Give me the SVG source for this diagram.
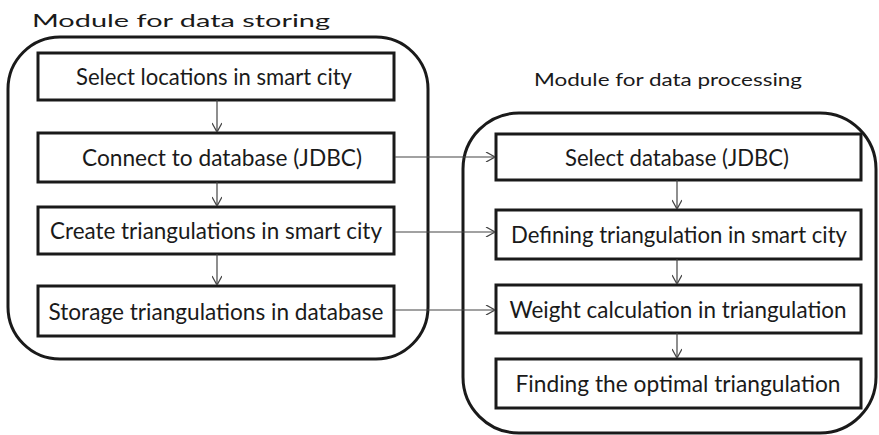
<svg xmlns="http://www.w3.org/2000/svg" width="879" height="435" viewBox="0 0 879 435">
<defs>
<style>
.outer{fill:none;stroke:#1a1a1a;stroke-width:3}
.box{fill:#fff;stroke:#1a1a1a;stroke-width:3}
.lbl{font-family:Lato,"Open Sans","Liberation Sans",sans-serif;font-size:23px;fill:#1a1a1a;text-anchor:middle}
.title{font-family:Lato,"Open Sans","Liberation Sans",sans-serif;font-size:18px;fill:#1a1a1a;text-anchor:middle}
.conn{fill:none;stroke:#444;stroke-width:1.2;marker-end:url(#arr)}
</style>
<marker id="arr" viewBox="0 0 10 10" refX="10" refY="5" markerWidth="10" markerHeight="10" markerUnits="userSpaceOnUse" orient="auto">
<path d="M1,0 L10,5 L1,10" fill="none" stroke="#444" stroke-width="1.3"/>
</marker>
</defs>
<rect width="879" height="435" fill="#fff"/>
<g id="module-storing">
<rect class="outer" x="8" y="37" width="420" height="322" rx="52" ry="52"/>
<text class="title" x="181" y="27" textLength="298" lengthAdjust="spacingAndGlyphs">Module for data storing</text>
</g>
<g id="module-processing">
<rect class="outer" x="463" y="113" width="413" height="320" rx="56" ry="56"/>
<text class="title" x="668" y="86" textLength="268" lengthAdjust="spacingAndGlyphs">Module for data processing</text>
</g>
<g id="n1"><rect class="box" x="38" y="53" width="356" height="47"/><text class="lbl" x="214" y="85" textLength="276" lengthAdjust="spacingAndGlyphs">Select locations in smart city</text></g>
<g id="n2"><rect class="box" x="38" y="133" width="356" height="49"/><text class="lbl" x="222" y="166" textLength="280" lengthAdjust="spacingAndGlyphs">Connect to database (JDBC)</text></g>
<g id="n3"><rect class="box" x="38" y="207" width="356" height="47"/><text class="lbl" x="216" y="239" textLength="332" lengthAdjust="spacingAndGlyphs">Create triangulations in smart city</text></g>
<g id="n4"><rect class="box" x="38" y="286" width="356" height="50"/><text class="lbl" x="216" y="319.5" textLength="335" lengthAdjust="spacingAndGlyphs">Storage triangulations in database</text></g>
<g id="n5"><rect class="box" x="496" y="134" width="365" height="46"/><text class="lbl" x="677" y="165.5" textLength="224" lengthAdjust="spacingAndGlyphs">Select database (JDBC)</text></g>
<g id="n6"><rect class="box" x="496" y="210" width="365" height="49"/><text class="lbl" x="679" y="243" textLength="336" lengthAdjust="spacingAndGlyphs">Defining triangulation in smart city</text></g>
<g id="n7"><rect class="box" x="496" y="285" width="365" height="48"/><text class="lbl" x="678" y="317.5" textLength="337" lengthAdjust="spacingAndGlyphs">Weight calculation in triangulation</text></g>
<g id="n8"><rect class="box" x="496" y="359" width="365" height="49"/><text class="lbl" x="678" y="392" textLength="325" lengthAdjust="spacingAndGlyphs">Finding the optimal triangulation</text></g>
<g id="connectors">
<path class="conn" d="M217,100 V132"/>
<path class="conn" d="M217,182 V206"/>
<path class="conn" d="M217,254 V285"/>
<path class="conn" d="M677,180 V209"/>
<path class="conn" d="M677,259 V284"/>
<path class="conn" d="M677,333 V358"/>
<path class="conn" d="M395,157 H495"/>
<path class="conn" d="M395,232 H495"/>
<path class="conn" d="M395,310 H495"/>
</g>
</svg>
